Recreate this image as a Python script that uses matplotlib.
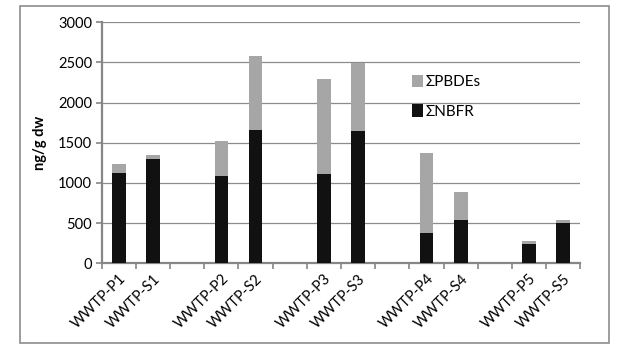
import matplotlib
matplotlib.use("Agg")
import matplotlib.pyplot as plt
from matplotlib.patches import Rectangle
import numpy as np

categories = ["WWTP-P1", "WWTP-S1", "", "WWTP-P2", "WWTP-S2", "", "WWTP-P3", "WWTP-S3", "",
              "WWTP-P4", "WWTP-S4", "", "WWTP-P5", "WWTP-S5"]
nbfr = [1120, 1295, 0, 1090, 1660, 0, 1110, 1650, 0, 380, 545, 0, 245, 505]
pbdes = [120, 50, 0, 430, 920, 0, 1180, 840, 0, 990, 345, 0, 30, 35]
yticks = [0, 500, 1000, 1500, 2000, 2500, 3000]

plt.rcParams['font.family'] = ['Lato', 'DejaVu Sans']

fig = plt.figure(figsize=(6.42, 3.63), dpi=100)
ax = fig.add_axes([0.1584, 0.2747, 0.9040 - 0.1584, 0.9386 - 0.2747])

x = np.arange(len(categories))
ax.bar(x, nbfr, width=0.4, color="#111111", label="ΣNBFR", zorder=3)
ax.bar(x, pbdes, width=0.4, bottom=nbfr, color="#a6a6a6", label="ΣPBDEs", zorder=3)

ax.set_xlim(-0.5, len(categories) - 0.5)
ax.set_ylim(0, 3000)
ax.set_yticks(yticks)
ax.set_yticklabels([str(v) for v in yticks], fontsize=10.5)
ax.yaxis.grid(True, color="#8c8c8c", linewidth=0.9, zorder=0)

ax.set_xticks(np.arange(len(categories) + 1) - 0.5)
ax.set_xticklabels([])
ax.set_xticks(x, minor=True)
ax.set_xticklabels(categories, minor=True, rotation=45, ha="right", va="top",
                   rotation_mode="anchor", fontsize=10.5)
ax.tick_params(axis="x", which="minor", length=0, pad=6)
ax.tick_params(axis="x", which="major", length=4, direction="out", color="#868686", width=1.2)
ax.tick_params(axis="y", length=4, direction="out", color="#868686", width=1.2, pad=3)

for s in ["top", "right"]:
    ax.spines[s].set_visible(False)
ax.spines["left"].set_color("#868686")
ax.spines["left"].set_linewidth(1.6)
ax.spines["bottom"].set_color("#868686")
ax.spines["bottom"].set_linewidth(1.6)

ax.set_ylabel("ng/g dw", fontsize=10.5, fontweight="bold", labelpad=8)

handles, labels = ax.get_legend_handles_labels()
leg = ax.legend(handles[::-1], labels[::-1], loc="upper left", bbox_to_anchor=(0.62, 0.84),
                frameon=False, fontsize=11, handlelength=0.7, handleheight=0.9,
                handletextpad=0.2, labelspacing=1.0)

fig.patches.append(Rectangle((20 / 642, 1 - 343 / 363), 589 / 642, 337 / 363,
                             transform=fig.transFigure, fill=False,
                             edgecolor="#8c8c8c", linewidth=1.2))

fig.savefig("out.png", dpi=100, facecolor="white")
